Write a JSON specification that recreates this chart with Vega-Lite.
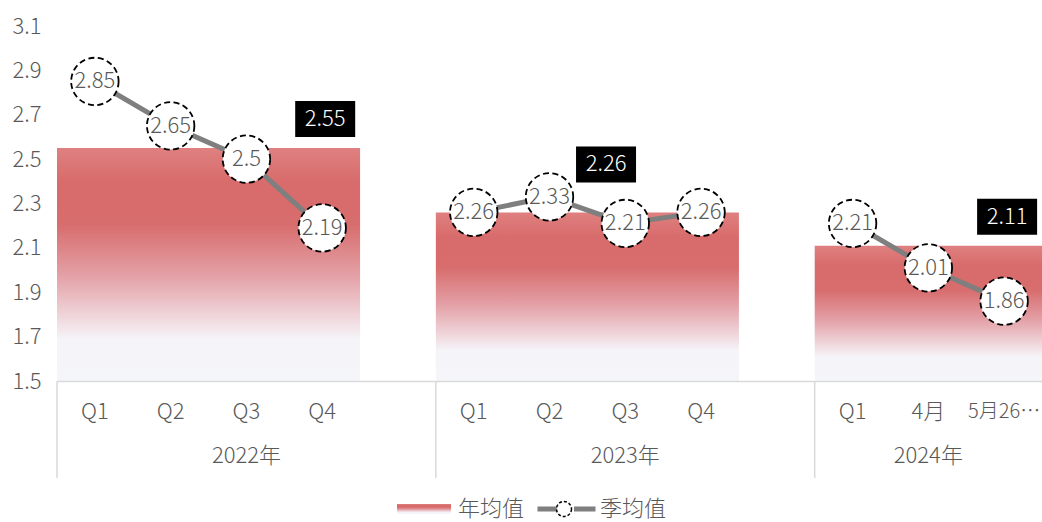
{
  "$schema": "https://vega.github.io/schema/vega-lite/v6.json",
  "width": 985,
  "height": 355,
  "autosize": {"type": "none"},
  "padding": {"left": 57, "top": 26, "right": 0, "bottom": 141},
  "config": {
    "view": {"stroke": null},
    "font": "Noto Sans CJK SC",
    "axis": {"labelFont": "Noto Sans CJK SC", "labelFontSize": 22, "labelColor": "#595959", "labelFontWeight": 300, "grid": false, "ticks": false},
    "legend": {"labelFont": "Noto Sans CJK SC", "labelFontSize": 22, "labelColor": "#595959", "labelFontWeight": 300, "title": null, "padding": 0},
    "text": {"font": "Noto Sans CJK SC", "fontWeight": 300}
  },
  "datasets": {
    "quarters": [
      {"slot": "2022年|Q1", "year": "2022年", "value": 2.85},
      {"slot": "2022年|Q2", "year": "2022年", "value": 2.65},
      {"slot": "2022年|Q3", "year": "2022年", "value": 2.5},
      {"slot": "2022年|Q4", "year": "2022年", "value": 2.19},
      {"slot": "2023年|Q1", "year": "2023年", "value": 2.26},
      {"slot": "2023年|Q2", "year": "2023年", "value": 2.33},
      {"slot": "2023年|Q3", "year": "2023年", "value": 2.21},
      {"slot": "2023年|Q4", "year": "2023年", "value": 2.26},
      {"slot": "2024年|Q1", "year": "2024年", "value": 2.21},
      {"slot": "2024年|4月", "year": "2024年", "value": 2.01},
      {"slot": "2024年|5月26…", "year": "2024年", "value": 1.86}
    ],
    "years": [
      {"year": "2022年", "first": "2022年|Q1", "last": "2022年|Q4", "value": 2.55},
      {"year": "2023年", "first": "2023年|Q1", "last": "2023年|Q4", "value": 2.26},
      {"year": "2024年", "first": "2024年|Q1", "last": "2024年|5月26…", "value": 2.11}
    ]
  },
  "layer": [
    {
      "data": {"name": "years"},
      "mark": {
        "type": "rect",
        "fill": {
          "gradient": "linear", "x1": 0, "y1": 0, "x2": 0, "y2": 1,
          "stops": [
            {"offset": 0, "color": "#df8080"},
            {"offset": 0.15, "color": "#d86b6b"},
            {"offset": 0.33, "color": "#d86d6e"},
            {"offset": 0.55, "color": "#e3a1a7"},
            {"offset": 0.72, "color": "#efd5da"},
            {"offset": 0.82, "color": "#f5f4f8"},
            {"offset": 1, "color": "#f5f6fa"}
          ]
        }
      },
      "encoding": {
        "x": {
          "field": "first", "type": "nominal", "bandPosition": 0, "title": null,
          "scale": {
            "type": "band", "paddingInner": 0, "paddingOuter": 0,
            "domain": ["2022年|Q1", "2022年|Q2", "2022年|Q3", "2022年|Q4", "2022年|gap", "2023年|Q1", "2023年|Q2", "2023年|Q3", "2023年|Q4", "2023年|gap", "2024年|Q1", "2024年|4月", "2024年|5月26…"]
          },
          "axis": {
            "domainColor": "#d9d9d9", "domainWidth": 1.5, "ticks": false, "labelPadding": 20, "labelAngle": 0,
            "labelLineHeight": 44, "labelOverlap": false, "labelBound": false, "labelFlush": false,
            "labelFontSize": {"condition": {"test": "datum.value === '2024年|5月26…'", "value": 20}, "value": 22},
            "labelExpr": "indexof(['2022年|Q3', '2023年|Q3', '2024年|4月'], datum.value) >= 0 ? [split(datum.value, '|')[1], split(datum.value, '|')[0]] : (split(datum.value, '|')[1] == 'gap' ? '' : split(datum.value, '|')[1])"
          }
        },
        "x2": {"field": "last", "bandPosition": 1},
        "y": {
          "field": "value", "type": "quantitative", "title": null,
          "scale": {"domain": [1.5, 3.1], "zero": false, "nice": false},
          "axis": {"values": [1.5, 1.7, 1.9, 2.1, 2.3, 2.5, 2.7, 2.9, 3.1], "format": ".1f", "domain": false, "ticks": false, "labelPadding": 16, "grid": false}
        },
        "y2": {"datum": 1.5},
        "opacity": {
          "datum": "年均值", "type": "nominal",
          "scale": {"range": [1, 1]},
          "legend": {
            "orient": "none", "legendX": 356, "legendY": 472,
            "symbolType": "M-5.4,-1H5.4V1H-5.4Z", "symbolSize": 100, "symbolStrokeWidth": 0,
            "labelOffset": 23
          }
        }
      }
    },
    {
      "data": {"name": "years"},
      "mark": {"type": "rule", "color": "#d9d9d9", "strokeWidth": 1.5, "y2Offset": 97},
      "encoding": {
        "x": {"field": "first", "type": "nominal", "bandPosition": 0, "title": null},
        "y": {"datum": 1.5, "type": "quantitative"},
        "y2": {"datum": 1.5}
      }
    },
    {
      "data": {"name": "quarters"},
      "mark": {"type": "line", "color": "#7f7f7f"},
      "encoding": {
        "x": {"field": "slot", "type": "nominal", "title": null,
              "sort": ["2022年|Q1", "2022年|Q2", "2022年|Q3", "2022年|Q4", "2022年|gap", "2023年|Q1", "2023年|Q2", "2023年|Q3", "2023年|Q4", "2023年|gap", "2024年|Q1", "2024年|4月", "2024年|5月26…"]},
        "y": {"field": "value", "type": "quantitative", "title": null},
        "detail": {"field": "year"},
        "strokeWidth": {
          "datum": "季均值线", "type": "nominal",
          "scale": {"range": [5, 5]},
          "legend": {
            "orient": "none", "legendX": 498.5, "legendY": 472,
            "symbolType": "M-5.8,0H-1.5M1.5,0H5.8", "symbolSize": 100,
            "symbolStrokeColor": "#7f7f7f", "labelExpr": "''"
          }
        }
      }
    },
    {
      "data": {"name": "quarters"},
      "mark": {"type": "point", "size": 2250, "filled": true, "fill": "#ffffff", "stroke": "#000000", "strokeWidth": 1.8, "strokeDash": [6, 3.5], "opacity": 1},
      "encoding": {
        "x": {"field": "slot", "type": "nominal", "title": null},
        "y": {"field": "value", "type": "quantitative", "title": null},
        "shape": {
          "datum": "季均值", "type": "nominal",
          "scale": {"range": ["circle"]},
          "legend": {
            "orient": "none", "legendX": 496, "legendY": 472,
            "symbolSize": 225, "symbolStrokeWidth": 1.5, "symbolDash": [3, 2], "symbolOpacity": 1,
            "labelOffset": 25
          }
        }
      }
    },
    {
      "data": {"name": "quarters"},
      "mark": {"type": "text", "fontSize": 22, "color": "#595959"},
      "encoding": {
        "x": {"field": "slot", "type": "nominal", "title": null},
        "y": {"field": "value", "type": "quantitative", "title": null},
        "text": {"field": "value", "type": "quantitative"}
      }
    },
    {
      "data": {"name": "years"},
      "transform": [{"filter": "datum.year !== '2023年'"}],
      "mark": {"type": "point", "shape": "M-1,-0.6H1V0.6H-1Z", "size": 3600, "filled": true, "fill": "#000000", "strokeWidth": 0, "opacity": 1, "xOffset": 3, "yOffset": -29},
      "encoding": {
        "x": {"field": "last", "type": "nominal", "title": null},
        "y": {"field": "value", "type": "quantitative", "title": null}
      }
    },
    {
      "data": {"name": "years"},
      "transform": [{"filter": "datum.year !== '2023年'"}],
      "mark": {"type": "text", "fontSize": 22, "color": "#ffffff", "xOffset": 3, "yOffset": -29},
      "encoding": {
        "x": {"field": "last", "type": "nominal", "title": null},
        "y": {"field": "value", "type": "quantitative", "title": null},
        "text": {"field": "value", "type": "quantitative"}
      }
    },
    {
      "data": {"name": "years"},
      "transform": [{"filter": "datum.year === '2023年'"}],
      "mark": {"type": "point", "shape": "M-1,-0.6H1V0.6H-1Z", "size": 3600, "filled": true, "fill": "#000000", "strokeWidth": 0, "opacity": 1, "xOffset": -95, "yOffset": -48},
      "encoding": {
        "x": {"field": "last", "type": "nominal", "title": null},
        "y": {"field": "value", "type": "quantitative", "title": null}
      }
    },
    {
      "data": {"name": "years"},
      "transform": [{"filter": "datum.year === '2023年'"}],
      "mark": {"type": "text", "fontSize": 22, "color": "#ffffff", "xOffset": -95, "yOffset": -48},
      "encoding": {
        "x": {"field": "last", "type": "nominal", "title": null},
        "y": {"field": "value", "type": "quantitative", "title": null},
        "text": {"field": "value", "type": "quantitative"}
      }
    }
  ]
}
